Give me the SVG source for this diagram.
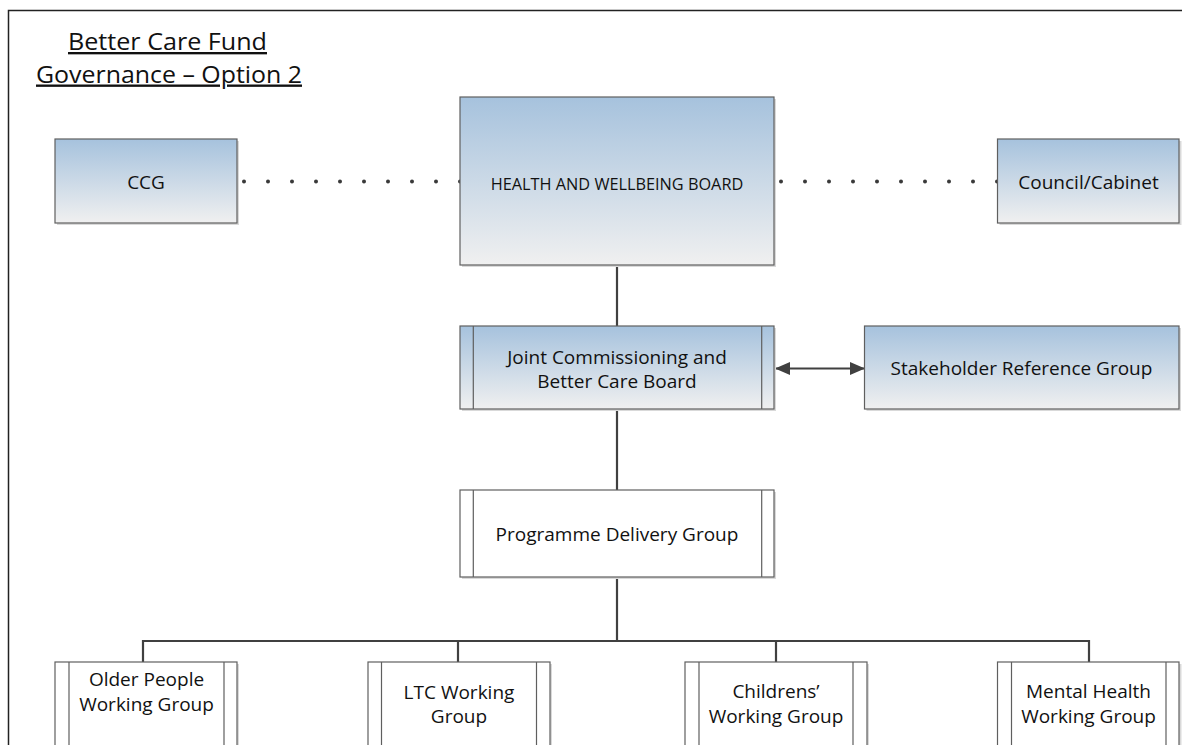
<svg xmlns="http://www.w3.org/2000/svg" width="1182" height="745" viewBox="0 0 1182 745">
<defs>
<linearGradient id="blue" x1="0" y1="0" x2="0" y2="1">
<stop offset="0" stop-color="#a6c2dd"/>
<stop offset="1" stop-color="#f0f0f0"/>
</linearGradient>
<marker id="ah" viewBox="0 0 15 13" refX="14" refY="6.5" markerWidth="15" markerHeight="13" markerUnits="userSpaceOnUse" orient="auto-start-reverse">
<path d="M0,0 L15,6.5 L0,13 Z" fill="#404040"/>
</marker>
</defs>
<style>
.box{stroke:#5f5f5f;stroke-width:1.2;}
.grad{fill:url(#blue);}
.white{fill:#ffffff;}
.shadow{fill:#d9d9d9;}
.bar{stroke:#5f5f5f;stroke-width:1.2;fill:none;}
.t{font-family:"Open Sans","Liberation Sans",sans-serif;font-size:19px;fill:#111;text-anchor:middle;}
.small{font-size:16.3px;}
.title{font-family:"Open Sans","Liberation Sans",sans-serif;font-size:23.5px;fill:#111;text-anchor:middle;text-decoration:underline;}
.conn{stroke:#404040;stroke-width:2.2;fill:none;}
.dots{stroke:#3a3a3a;stroke-width:4;stroke-linecap:round;stroke-dasharray:0 24;fill:none;}
</style>
<rect x="0" y="0" width="1182" height="745" fill="#ffffff"/>
<path d="M8.5,760 L8.5,10.5 L1190,10.5" fill="none" stroke="#222" stroke-width="1.5"/>
<g id="title">
<text class="title" x="167.5" y="50" textLength="199" lengthAdjust="spacingAndGlyphs">Better Care Fund</text>
<text class="title" x="169" y="82.5" textLength="266" lengthAdjust="spacingAndGlyphs">Governance – Option 2</text>
</g>
<g id="connectors">
<path class="dots" d="M460,181.5 L236,181.5"/>
<path class="dots" d="M997,181.5 L774,181.5"/>
<path class="conn" d="M617,265 L617,326"/>
<path class="conn" d="M617,409 L617,490"/>
<path class="conn" d="M617,577 L617,641"/>
<path class="conn" d="M143,662 L143,641 L1089,641 L1089,662"/>
<path class="conn" d="M458,641 L458,662"/>
<path class="conn" d="M776,641 L776,662"/>
<path class="conn" stroke-width="2.6" d="M776,368.5 L864,368.5" marker-start="url(#ah)" marker-end="url(#ah)"/>
</g>
<g id="ccg">
<rect class="shadow" x="57" y="141" width="182" height="84"/>
<rect class="box grad" x="55" y="139" width="182" height="84"/>
<text class="t" x="146" y="188.5">CCG</text>
</g>
<g id="hwb">
<rect class="shadow" x="462" y="99" width="314" height="168"/>
<rect class="box grad" x="460" y="97" width="314" height="168"/>
<text class="t small" x="617" y="190">HEALTH AND WELLBEING BOARD</text>
</g>
<g id="council">
<rect class="shadow" x="999.5" y="141" width="182" height="84"/>
<rect class="box grad" x="997.5" y="139" width="181.5" height="84"/>
<text class="t" x="1088.5" y="188.5">Council/Cabinet</text>
</g>
<g id="jcb">
<rect class="shadow" x="462" y="328" width="314" height="83"/>
<rect class="box grad" x="460" y="326" width="314" height="83"/>
<path class="bar" d="M473.3,326 V409 M761.7,326 V409"/>
<text class="t" x="617" y="363.5">Joint Commissioning and</text>
<text class="t" x="617" y="388">Better Care Board</text>
</g>
<g id="stakeholder">
<rect class="shadow" x="866.5" y="328" width="314.5" height="83"/>
<rect class="box grad" x="864.5" y="326" width="314.5" height="83"/>
<text class="t" x="1021.5" y="375">Stakeholder Reference Group</text>
</g>
<g id="pdg">
<rect class="shadow" x="462" y="492" width="314" height="87"/>
<rect class="box white" x="460" y="490" width="314" height="87"/>
<path class="bar" d="M473.3,490 V577 M761.7,490 V577"/>
<text class="t" x="617" y="541">Programme Delivery Group</text>
</g>
<g id="older">
<rect class="shadow" x="57" y="664" width="182" height="140"/>
<rect class="box white" x="55" y="662" width="182" height="140"/>
<path class="bar" d="M69,662 V802 M224,662 V802"/>
<text class="t" x="146.5" y="686">Older People</text>
<text class="t" x="146.5" y="711">Working Group</text>
</g>
<g id="ltc">
<rect class="shadow" x="370" y="664" width="182" height="140"/>
<rect class="box white" x="368" y="662" width="182" height="140"/>
<path class="bar" d="M381.5,662 V802 M536.5,662 V802"/>
<text class="t" x="459" y="698.5">LTC Working</text>
<text class="t" x="459" y="723">Group</text>
</g>
<g id="childrens">
<rect class="shadow" x="687" y="664" width="182" height="140"/>
<rect class="box white" x="685" y="662" width="182" height="140"/>
<path class="bar" d="M699,662 V802 M853,662 V802"/>
<text class="t" x="776" y="698">Childrens’</text>
<text class="t" x="776" y="722.5">Working Group</text>
</g>
<g id="mental">
<rect class="shadow" x="999.5" y="664" width="182" height="140"/>
<rect class="box white" x="997.5" y="662" width="181.5" height="140"/>
<path class="bar" d="M1011.5,662 V802 M1166,662 V802"/>
<text class="t" x="1088.5" y="698">Mental Health</text>
<text class="t" x="1088.5" y="722.5">Working Group</text>
</g>
</svg>
